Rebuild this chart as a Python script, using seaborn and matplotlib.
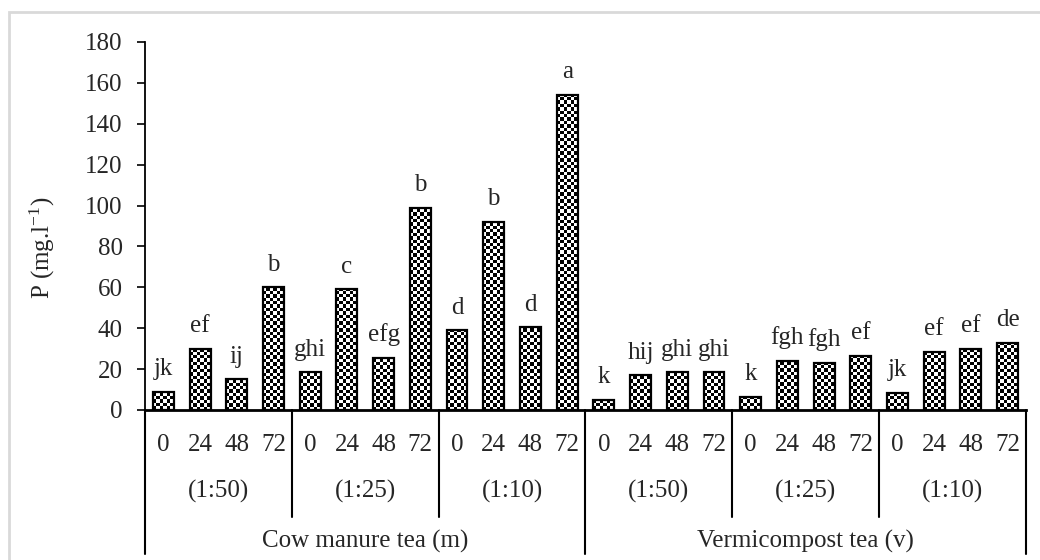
import numpy as np
import pandas as pd
import matplotlib
matplotlib.use("Agg")
import matplotlib.pyplot as plt
from matplotlib.patches import Rectangle
import seaborn as sns

# data
teas = ["Cow manure tea (m)", "Vermicompost tea (v)"]
dilutions = ["(1:50)", "(1:25)", "(1:10)"]
hours = ["0", "24", "48", "72"]
p_values = [9, 30, 15, 60, 18.5, 59, 25.5, 99, 39, 92, 40.5, 154,
            5, 17, 18.5, 18.5, 6.5, 24, 23, 26.5, 8.5, 28.5, 30, 33]
letters = ["jk", "ef", "ij", "b", "ghi", "c", "efg", "b", "d", "b", "d", "a",
           "k", "hij", "ghi", "ghi", "k", "fgh", "fgh", "ef", "jk", "ef", "ef", "de"]

rows = []
for t in teas:
    for d in dilutions:
        for h in hours:
            rows.append({"tea": t, "dilution": d, "hour": h, "key": t + d + h})
df = pd.DataFrame(rows)
df["p"] = p_values
df["letter"] = letters

sns.set_theme(style="white")
plt.rcParams["font.family"] = ["Liberation Serif", "DejaVu Serif"]
plt.rcParams["mathtext.fontset"] = "custom"
plt.rcParams["mathtext.rm"] = "Liberation Serif"
plt.rcParams["mathtext.it"] = "Liberation Serif:italic"
fs = 18

fig = plt.figure(figsize=(10.4, 5.6), dpi=100)
ax = fig.add_axes([145 / 1040, 150 / 560, 881 / 1040, 368 / 560])

sns.barplot(data=df, x="key", y="p", order=list(df["key"]), color="white",
            saturation=1, edgecolor="black", linewidth=1.6, width=0.57,
            errorbar=None, ax=ax)

# checkerboard fill like the excel pattern
cell_px = 3.4
xc = cell_px / (881 / 24)
yc = cell_px / (368 / 180)
for p in ax.patches:
    x0, w, h = p.get_x(), p.get_width(), p.get_height()
    nx = int(np.ceil(w / xc)) + 1
    ny = int(np.ceil(h / yc)) + 1
    board = np.add.outer(np.arange(ny), np.arange(nx)) % 2
    im = ax.imshow(board, cmap="gray", vmin=0, vmax=1, origin="lower",
                   extent=(x0, x0 + nx * xc, 0, ny * yc), aspect="auto",
                   interpolation="nearest", zorder=2)
    im.set_clip_path(p)
    p.set_facecolor("none")
    p.set_zorder(3)

for i, (v, lab) in enumerate(zip(df["p"], df["letter"])):
    ax.annotate(lab, (i, v), xytext=(0, 12), textcoords="offset points",
                ha="center", va="baseline", fontsize=fs)

ax.set_xlim(-0.5, 23.5)
ax.set_ylim(0, 180)
ax.set_yticks(range(0, 181, 20))
ax.tick_params(axis="y", labelsize=fs, direction="out", length=6, width=1.2,
               pad=10, left=True, color="black")
ax.set_xticks(range(len(df)))
ax.set_xticklabels(df["hour"], fontsize=fs)
ax.tick_params(axis="x", length=0, pad=25)
for lab in ax.get_xticklabels():
    lab.set_va("center")
ax.set_xlabel("")
ax.set_ylabel("")
ax.spines["top"].set_visible(False)
ax.spines["right"].set_visible(False)
ax.spines["left"].set_linewidth(1.3)
ax.spines["left"].set_color("black")
ax.spines["bottom"].set_linewidth(2)
ax.spines["bottom"].set_color("black")

# multi level category axis
trans = ax.get_xaxis_transform()
for k, d in enumerate(dilutions * 2):
    ax.text(k * 4 + 1.5, -0.22, d, transform=trans, ha="center", va="center",
            fontsize=fs)
for k, t in enumerate(teas):
    ax.text(k * 12 + 5.5, -0.358, t, transform=trans, ha="center", va="center",
            fontsize=fs)
for xs in [3.5, 7.5, 15.5, 19.5]:
    ax.plot([xs, xs], [0, -0.291], transform=trans, color="black", lw=1.5,
            clip_on=False)
for xs in [-0.5, 11.5, 23.5]:
    ax.plot([xs, xs], [0, -0.39], transform=trans, color="black", lw=1.5,
            clip_on=False)

fig.text(42 / 1040, 1 - 248 / 560, "P (mg.l$^{-1}$)", rotation=90,
         ha="center", va="center", fontsize=fs)

fig.patches.append(Rectangle((9 / 1040, -0.1), 2, 1 - 12 / 560 + 0.1,
                             transform=fig.transFigure, fill=False,
                             edgecolor="#d9d9d9", lw=2))

fig.savefig("out.png", dpi=100)
